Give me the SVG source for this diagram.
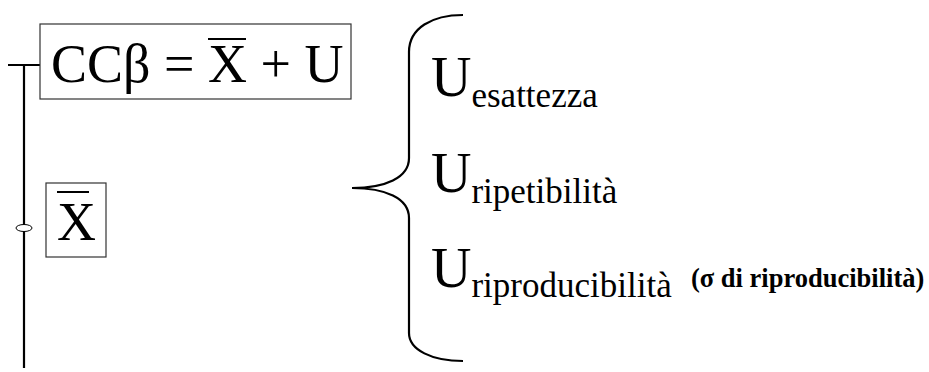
<svg xmlns="http://www.w3.org/2000/svg" width="929" height="372" viewBox="0 0 929 372">
<style>
text{font-family:'Liberation Serif','Times New Roman',serif;fill:#000}
.big{font-size:54px}
.u{font-size:56px}
.sub{font-size:35px}
.note{font-size:26.5px;font-weight:bold}
.box{fill:none;stroke:#333;stroke-width:1.2}
.ln{fill:none;stroke:#000;stroke-width:2.2}
</style>
<rect width="929" height="372" fill="#fff"/>
<g id="connectors">
<path class="ln" d="M8 65 H40 M24 65 V368"/>
<ellipse cx="24" cy="228" rx="8" ry="3.5" fill="#fff" stroke="#000" stroke-width="1"/>
<path class="ln" stroke-width="3.5" d="M463 15 C432 15 409 28 409 52 V158 C409 178 385 188 352 188 C385 188 409 198 409 218 V333 C409 350 432 361 463 361"/>
</g>
<g id="formula">
<rect class="box" x="40" y="24" width="311" height="75"/>
<text class="big" x="51" y="82">CCβ = X + U</text>
<line x1="208" y1="39" x2="246" y2="39" stroke="#000" stroke-width="2"/>
</g>
<g id="xbar">
<rect class="box" x="46" y="183" width="60" height="74"/>
<text class="big" x="57" y="240">X</text>
<line x1="57" y1="192" x2="89" y2="192" stroke="#000" stroke-width="2"/>
</g>
<g id="u-esattezza">
<text x="431" y="96"><tspan class="u">U</tspan><tspan class="sub" dy="11">esattezza</tspan></text>
</g>
<g id="u-ripetibilita">
<text x="431" y="192"><tspan class="u">U</tspan><tspan class="sub" dy="11">ripetibilità</tspan></text>
</g>
<g id="u-riproducibilita">
<text x="431" y="287"><tspan class="u">U</tspan><tspan class="sub" dy="10">riproducibilità</tspan></text>
<text class="note" x="691" y="287">(σ di riproducibilità)</text>
</g>
</svg>
